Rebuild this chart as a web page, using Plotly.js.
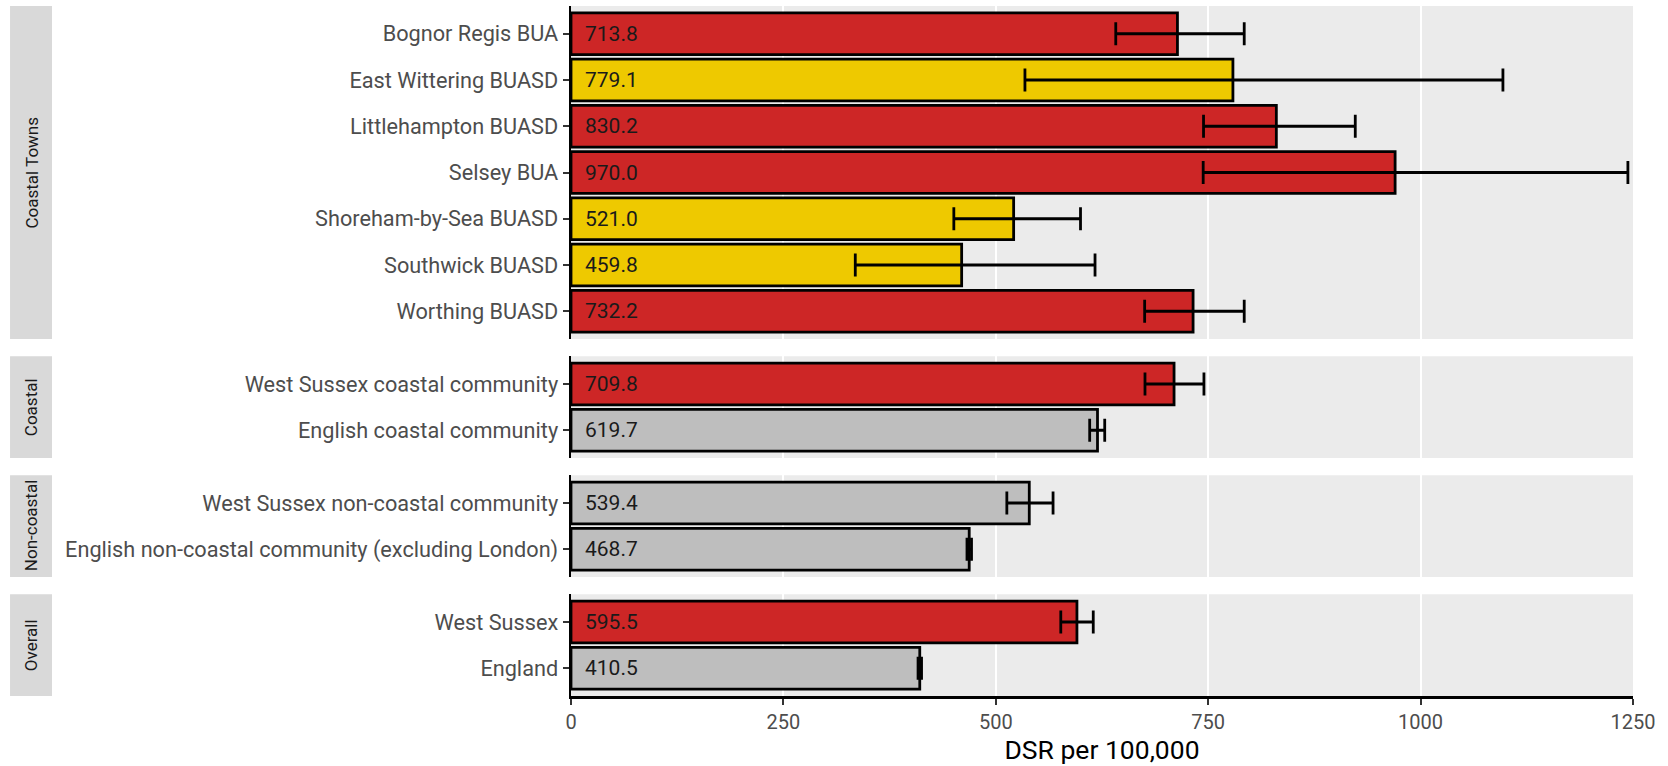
<!DOCTYPE html>
<html>
<head>
<meta charset="utf-8">
<script src="https://cdn.plot.ly/plotly-3.0.1.min.js"></script>
<style>html,body{margin:0;padding:0;background:#fff;}#chart{width:1668px;height:766px;}</style>
</head>
<body>
<div id="chart"></div>
<script>
// ---- data ----
const panelNames = ["Coastal Towns", "Coastal", "Non-coastal", "Overall"];

const townAreas = ["Bognor Regis BUA", "East Wittering BUASD", "Littlehampton BUASD", "Selsey BUA", "Shoreham-by-Sea BUASD", "Southwick BUASD", "Worthing BUASD"];
const townValues = [713.8, 779.1, 830.2, 970.0, 521.0, 459.8, 732.2];
const townLower = [641.2, 534.3, 744.5, 744.1, 450.6, 334.6, 675.2];
const townUpper = [792.4, 1096.9, 923.1, 1244.0, 599.7, 616.8, 792.4];
const townSignif = ["higher", "similar", "higher", "higher", "similar", "similar", "higher"];

const coastalAreas = ["West Sussex coastal community", "English coastal community"];
const coastalValues = [709.8, 619.7];
const coastalLower = [675.6, 610.5];
const coastalUpper = [745.0, 628.2];
const coastalSignif = ["higher", "comparator"];

const nonCoastalAreas = ["West Sussex non-coastal community", "English non-coastal community (excluding London)"];
const nonCoastalValues = [539.4, 468.7];
const nonCoastalLower = [513.0, 466.1];
const nonCoastalUpper = [567.4, 471.4];
const nonCoastalSignif = ["comparator", "comparator"];

const overallAreas = ["West Sussex", "England"];
const overallValues = [595.5, 410.5];
const overallLower = [576.5, 408.5];
const overallUpper = [614.7, 412.6];
const overallSignif = ["higher", "comparator"];

const xTicks = [0, 250, 500, 750, 1000, 1250];

// ---- styling ----
const signifColours = {higher: "#CD2626", similar: "#EEC900", comparator: "#BEBEBE"};
const FONT = "Roboto, 'Open Sans', sans-serif";

const panels = [
  {areas: townAreas, values: townValues, lower: townLower, upper: townUpper, signif: townSignif},
  {areas: coastalAreas, values: coastalValues, lower: coastalLower, upper: coastalUpper, signif: coastalSignif},
  {areas: nonCoastalAreas, values: nonCoastalValues, lower: nonCoastalLower, upper: nonCoastalUpper, signif: nonCoastalSignif},
  {areas: overallAreas, values: overallValues, lower: overallLower, upper: overallUpper, signif: overallSignif}
];

// panel domains (paper fraction, bottom..top)
const domains = [[0.51739, 1.0], [0.34493, 0.49239], [0.17246, 0.31993], [0.0, 0.14746]];
const stripX = [-0.5282, -0.4887];

const traces = [];
const annotations = [];
const shapes = [];
const layout = {
  width: 1668, height: 766,
  margin: {l: 571, r: 35, t: 6, b: 70, pad: 0},
  paper_bgcolor: "#FFFFFF",
  plot_bgcolor: "#EBEBEB",
  showlegend: false,
  font: {family: FONT, color: "#4D4D4D"},
  bargap: 0.1
};

panels.forEach((p, i) => {
  const k = i + 1;
  const xa = "x" + (k === 1 ? "" : k);
  const ya = "y" + (k === 1 ? "" : k);
  traces.push({
    type: "bar",
    orientation: "h",
    x: p.values,
    y: p.areas,
    xaxis: xa, yaxis: ya,
    marker: {color: p.signif.map(s => signifColours[s]), line: {color: "#000000", width: 2.8}},
    error_x: {
      type: "data", symmetric: false,
      array: p.upper.map((u, j) => u - p.values[j]),
      arrayminus: p.lower.map((l, j) => p.values[j] - l),
      color: "#000000", thickness: 2.8, width: 11.5
    },
    hoverinfo: "skip"
  });
  p.values.forEach((v, j) => {
    annotations.push({
      xref: xa, yref: ya, x: 0, y: p.areas[j],
      xanchor: "left", yanchor: "middle", xshift: 12,
      text: v.toFixed(1), showarrow: false,
      font: {family: FONT, size: 21, color: "#1A1A1A"}
    });
  });
  const n = p.areas.length;
  const isBottom = k === 4;
  layout["xaxis" + (k === 1 ? "" : k)] = {
    anchor: ya, domain: [0, 1],
    range: [0, 1250], tickvals: xTicks, ticktext: xTicks.map(String),
    showgrid: true, gridcolor: "#FFFFFF", gridwidth: 2,
    zeroline: false,
    showline: isBottom, linecolor: "#000000", linewidth: 2.5,
    ticks: isBottom ? "outside" : "", ticklen: 6, tickwidth: 2, tickcolor: "#333333",
    showticklabels: isBottom,
    tickfont: {family: FONT, size: 20, color: "#4D4D4D"},
    title: isBottom ? {text: "DSR per 100,000", font: {family: FONT, size: 26.5, color: "#000000"}, standoff: 8} : {text: ""},
    fixedrange: true
  };
  layout["yaxis" + (k === 1 ? "" : k)] = {
    anchor: xa, domain: domains[i],
    type: "category", categoryorder: "array", categoryarray: p.areas,
    range: [n - 0.4, -0.6], autorange: false,
    showgrid: false, zeroline: false,
    showline: true, linecolor: "#000000", linewidth: 2.5,
    ticks: "outside", ticklen: 6, tickwidth: 2, tickcolor: "#333333",
    tickfont: {family: FONT, size: 21.7, color: "#4D4D4D"},
    fixedrange: true
  };
  // facet strip
  shapes.push({
    type: "rect", xref: "paper", yref: "paper",
    x0: stripX[0], x1: stripX[1], y0: domains[i][0], y1: domains[i][1],
    fillcolor: "#D9D9D9", line: {width: 0}, layer: "below"
  });
  annotations.push({
    xref: "paper", yref: "paper",
    x: (stripX[0] + stripX[1]) / 2, y: (domains[i][0] + domains[i][1]) / 2,
    xanchor: "center", yanchor: "middle", textangle: -90,
    text: panelNames[i], showarrow: false,
    font: {family: FONT, size: 17, color: "#1A1A1A"}
  });
});

layout.annotations = annotations;
layout.shapes = shapes;

Plotly.newPlot("chart", traces, layout, {displayModeBar: false, staticPlot: true});
</script>
</body>
</html>
